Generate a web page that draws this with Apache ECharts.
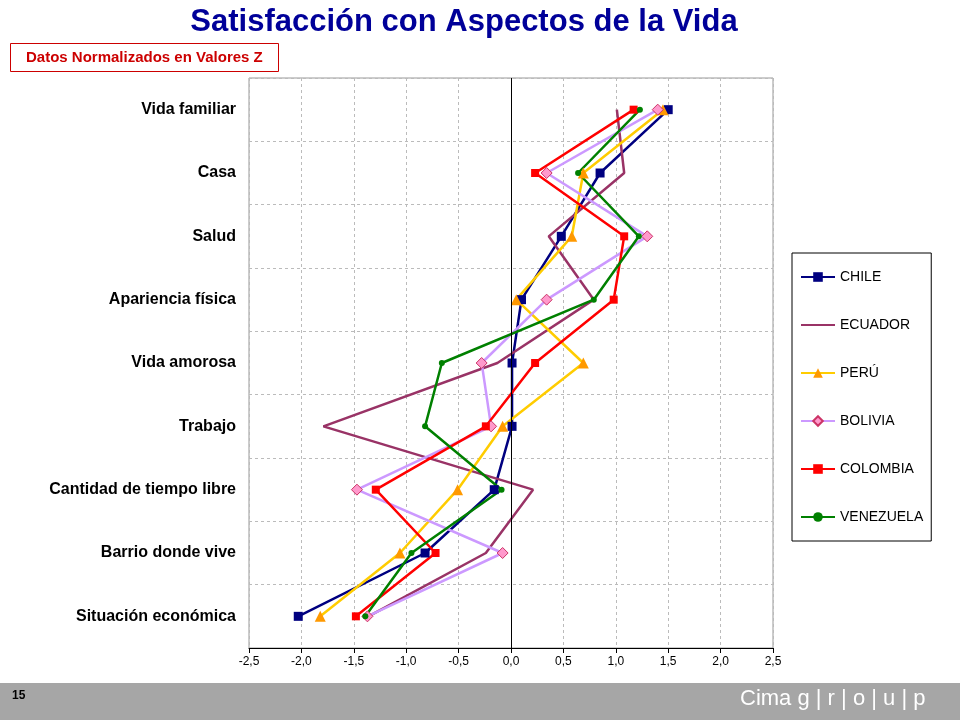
<!DOCTYPE html>
<html>
<head>
<meta charset="utf-8">
<script src="https://cdn.jsdelivr.net/npm/echarts@6/dist/echarts.min.js"></script>
<style>
  body { margin: 0; background: #fff; }
  #main { width: 960px; height: 720px; }
</style>
</head>
<body>
<div id="main"></div>
<script>
var categories = ['Vida familiar', 'Casa', 'Salud', 'Apariencia física', 'Vida amorosa',
  'Trabajo', 'Cantidad de tiempo libre', 'Barrio donde vive', 'Situación económica'];
var chile     = [1.50, 0.85, 0.48, 0.10, 0.01, 0.01, -0.16, -0.82, -2.03];
var ecuador   = [1.01, 1.08, 0.36, 0.79, -0.13, -1.79, 0.21, -0.24, -1.36];
var peru      = [1.45, 0.69, 0.58, 0.05, 0.69, -0.08, -0.51, -1.06, -1.82];
var bolivia   = [1.40, 0.34, 1.30, 0.34, -0.28, -0.19, -1.47, -0.08, -1.37];
var colombia  = [1.17, 0.23, 1.08, 0.98, 0.23, -0.24, -1.29, -0.72, -1.48];
var venezuela = [1.23, 0.64, 1.22, 0.79, -0.66, -0.82, -0.09, -0.95, -1.39];

var chart = echarts.init(document.getElementById('main'));

function mk(name, data, color, symbol, size, extra) {
  var s = {
    name: name,
    type: 'line',
    data: data,
    symbol: symbol,
    symbolSize: size,
    lineStyle: { color: color, width: 2.5 },
    itemStyle: { color: color },
    z: 3
  };
  for (var k in extra) s[k] = extra[k];
  return s;
}

var series = [
  mk('CHILE', chile, '#000080', 'rect', 9, {}),
  mk('ECUADOR', ecuador, '#993366', 'none', 0, { showSymbol: false }),
  mk('PERÚ', peru, '#FFCC00', 'triangle', 11, { itemStyle: { color: '#FF9900' } }),
  mk('BOLIVIA', bolivia, '#CC99FF', 'diamond', 11, { itemStyle: { color: '#FF99CC', borderColor: '#CC3366', borderWidth: 1 } }),
  mk('COLOMBIA', colombia, '#FF0000', 'rect', 8, {}),
  mk('VENEZUELA', venezuela, '#008000', 'circle', 6, {})
];
series[0].markLine = {
  silent: true, symbol: 'none', label: { show: false },
  lineStyle: { color: '#000', type: 'solid', width: 1 },
  data: [{ xAxis: 0 }]
};

chart.setOption({
  animation: false,
  backgroundColor: '#fff',
  title: [{
    text: 'Satisfacción con Aspectos de la Vida',
    left: 459, top: 2, textAlign: 'center',
    textStyle: { color: '#000099', fontSize: 31, fontWeight: 'bold', fontFamily: 'Liberation Sans, Arial' }
  }, {
    text: 'Datos Normalizados en Valores Z',
    left: 10, top: 43,
    padding: [7, 16, 7, 16],
    borderColor: '#CC0000', borderWidth: 1,
    textStyle: { color: '#CC0000', fontSize: 15, fontWeight: 'bold', fontFamily: 'Liberation Sans, Arial' }
  }],
  graphic: [
    { type: 'rect', shape: { x: 0, y: 683, width: 960, height: 37 }, style: { fill: '#A6A6A6' } },
    { type: 'text', left: 12, top: 690, style: { text: '15', fill: '#000', font: 'bold 12px Liberation Sans, Arial' } },
    { type: 'text', left: 740, top: 688, style: { text: 'Cima g | r | o | u | p', fill: '#fff', font: '22px Liberation Sans, Arial' } }
  ],
  legend: {
    orient: 'vertical',
    left: 792, top: 253, width: 143, height: 290,
    padding: [17, 8, 17, 8],
    itemGap: 34,
    itemWidth: 34, itemHeight: 12,
    borderColor: '#000', borderWidth: 1,
    textStyle: { fontSize: 14, color: '#000', fontFamily: 'Liberation Sans, Arial' },
    data: ['CHILE', { name: 'ECUADOR', itemStyle: { opacity: 0 } }, 'PERÚ', 'BOLIVIA', 'COLOMBIA', 'VENEZUELA']
  },
  grid: { left: 249, right: 187, top: 78, bottom: 72, show: true, borderColor: '#999', borderWidth: 1 },
  xAxis: {
    type: 'value', min: -2.5, max: 2.5, interval: 0.5,
    axisLine: { show: true, onZero: false, lineStyle: { color: '#000' } },
    axisTick: { show: true, lineStyle: { color: '#000' } },
    axisLabel: {
      color: '#000', fontSize: 12, fontFamily: 'Liberation Sans, Arial',
      formatter: function (v) { return v.toFixed(1).replace('.', ','); }
    },
    splitLine: { show: true, lineStyle: { color: '#bbb', type: [3, 3] } }
  },
  yAxis: {
    type: 'category', data: categories, inverse: true,
    axisLine: { show: false },
    axisTick: { show: false },
    axisLabel: { color: '#000', fontSize: 16, fontWeight: 'bold', margin: 13, fontFamily: 'Liberation Sans, Arial' },
    splitLine: { show: true, lineStyle: { color: '#bbb', type: [3, 3] } }
  },
  series: series
});
</script>
</body>
</html>
